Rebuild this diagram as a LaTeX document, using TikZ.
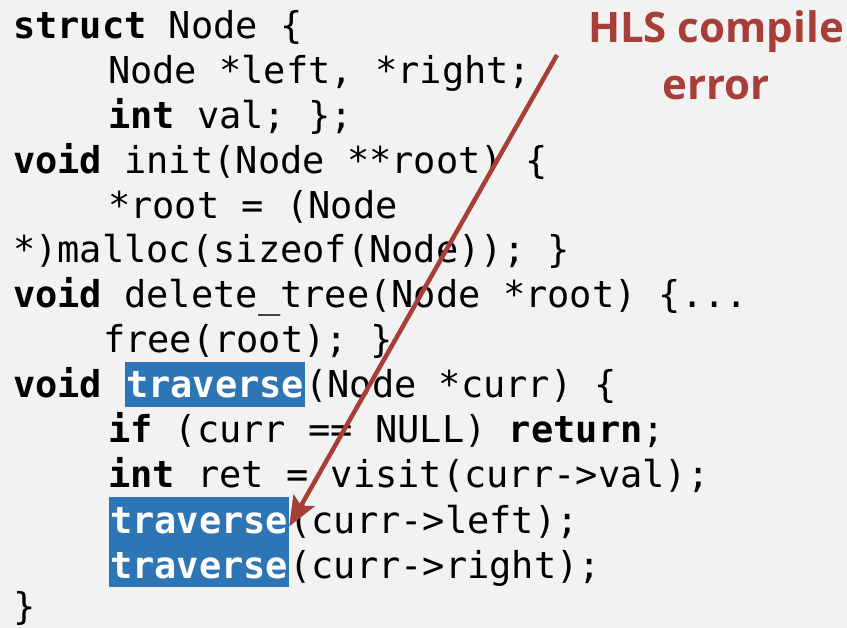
\documentclass[tikz,border=0pt]{standalone}
\usepackage{fontspec}
\usetikzlibrary{arrows.meta}
\newfontfamily\codefont{DejaVu Sans Mono}
\newfontfamily\labelfont{Open Sans}
\definecolor{bggray}{HTML}{F2F2F2}
\definecolor{hlblue}{HTML}{2E75B6}
\definecolor{errred}{RGB}{168,62,56}
\tikzset{
  codeline/.style={anchor=base west, inner sep=0pt, outer sep=0pt,
    font=\codefont\fontsize{37}{45}\selectfont, text=black},
  hlword/.style={codeline, fill=hlblue, text=white,
    font=\codefont\bfseries\fontsize{37}{45}\selectfont,
    inner xsep=1pt, inner ysep=0pt, text height=36pt, text depth=9pt},
  errlabel/.style={align=center, inner sep=0pt, text=errred,
    font=\labelfont\bfseries\fontsize{42}{57}\selectfont},
  errarrow/.style={draw=errred, line width=4.5pt,
    -{Stealth[length=30pt,width=24pt,inset=6pt]}}
}
\begin{document}
\begin{tikzpicture}[x=1pt,y=-1pt]
\fill[bggray] (0,0) rectangle (847,628);
\useasboundingbox (0,0) rectangle (847,628);

\node[codeline] (l1) at (13,39) {\textbf{struct} Node \{};
\node[codeline] (l2) at (108,84) {Node *left, *right;};
\node[codeline] (l3) at (108,129) {\textbf{int} val; \};};
\node[codeline] (l4) at (13,174) {\textbf{void} init(Node **root) \{};
\node[codeline] (l5) at (108,219) {*root = (Node};
\node[codeline] (l6) at (13,263) {*)malloc(sizeof(Node)); \}};
\node[codeline] (l7) at (13,308) {\textbf{void} delete\_tree(Node *root) \{...};
\node[codeline] (l8) at (103,353) {free(root); \}};
\node[codeline] (l9a) at (13,398) {\textbf{void} };
\node[hlword] (hl9) at (125,398) {traverse};
\node[codeline] (l9b) at (hl9.base east) {(Node *curr) \{};
\node[codeline] (l10) at (108,443) {\textbf{if} (curr == NULL) \textbf{return};};
\node[codeline] (l11) at (108,488) {\textbf{int} ret = visit(curr->val);};
\node[hlword] (hl12) at (109,533) {traverse};
\node[codeline] (l12b) at (hl12.base east) {(curr->left);};
\node[hlword] (hl13) at (109,578) {traverse};
\node[codeline] (l13b) at (hl13.base east) {(curr->right);};
\node[codeline] (l14) at (13,619) {\}};

\node[errlabel] (err) at (716,55) {HLS compile\\error};
\coordinate (arrstart) at (557,55);
\coordinate (arrend) at ([yshift=-7pt]hl12.east);
\draw[errarrow] (arrstart) -- (arrend);
\end{tikzpicture}
\end{document}
